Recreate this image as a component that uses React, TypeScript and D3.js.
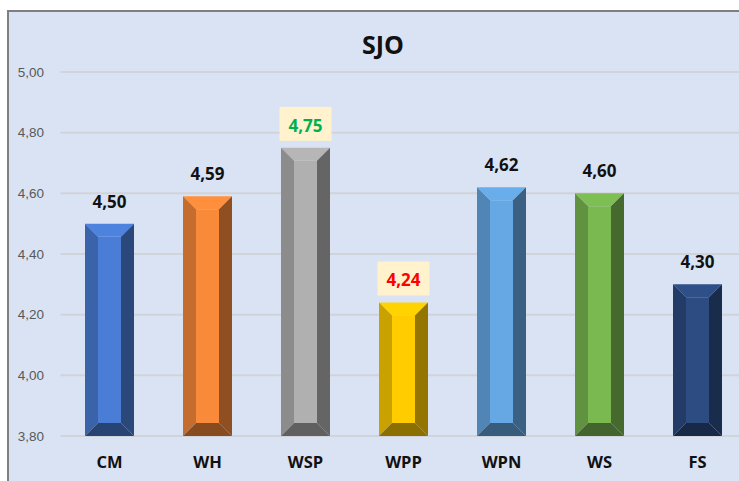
import React, { useEffect, useRef } from "react";
import * as d3 from "d3";

const categories = ["CM", "WH", "WSP", "WPP", "WPN", "WS", "FS"];
const values = [4.5, 4.59, 4.75, 4.24, 4.62, 4.6, 4.3];
const barColors = ["#4A7DD6", "#F98A3A", "#B0B0B0", "#FFCC00", "#65A8E4", "#7AB850", "#2C4C82"];
const yTicks = [3.8, 4.0, 4.2, 4.4, 4.6, 4.8, 5.0];
// highlighted labels: best and worst
const highlight: Record<string, string> = { WSP: "#00B050", WPP: "#FF0000" };

const fmt = (v: number) => v.toFixed(2).replace(".", ",");

const App: React.FC = () => {
  const svgRef = useRef<SVGSVGElement | null>(null);

  useEffect(() => {
    if (!svgRef.current) return;
    const W = 739;
    const H = 481;
    const svg = d3.select(svgRef.current);
    svg.selectAll("*").remove();

    const plot = { left: 60.5, right: 746.5, top: 72, bottom: 436 };

    // chart background + frame
    svg
      .append("rect")
      .attr("x", 8)
      .attr("y", 11)
      .attr("width", W + 20)
      .attr("height", H + 20)
      .attr("fill", "#DAE3F3")
      .attr("stroke", "#7F7F7F")
      .attr("stroke-width", 2);

    const x = d3
      .scaleBand<string>()
      .domain(categories)
      .range([plot.left, plot.right])
      .paddingInner(0.5)
      .paddingOuter(0.25);
    const y = d3.scaleLinear().domain([3.8, 5.0]).range([plot.bottom, plot.top]);

    // gridlines
    svg
      .append("g")
      .selectAll("line")
      .data(yTicks)
      .join("line")
      .attr("x1", plot.left)
      .attr("x2", W)
      .attr("y1", (d) => y(d))
      .attr("y2", (d) => y(d))
      .attr("stroke", "#D0D3D9")
      .attr("stroke-width", 2);

    // y tick labels
    svg
      .append("g")
      .selectAll("text")
      .data(yTicks)
      .join("text")
      .attr("x", 44)
      .attr("y", (d) => y(d))
      .attr("dy", "0.35em")
      .attr("text-anchor", "end")
      .attr("font-family", "Liberation Sans, Arial, sans-serif")
      .attr("font-size", 13.5)
      .attr("fill", "#595959")
      .text((d) => fmt(d));

    // beveled bars
    const bev = 13;
    const bars = svg
      .append("g")
      .selectAll("g")
      .data(categories)
      .join("g");

    bars.each(function (c, i) {
      const g = d3.select(this);
      const x0 = x(c)!;
      const w = x.bandwidth();
      const x1 = x0 + w;
      const yt = y(values[i]);
      const yb = y(3.8);
      const base = d3.color(barColors[i])!;
      const poly = (pts: number[][], fill: string) =>
        g
          .append("polygon")
          .attr("points", pts.map((p) => p.join(",")).join(" "))
          .attr("fill", fill);
      poly([[x0 + bev, yt + bev], [x1 - bev, yt + bev], [x1 - bev, yb - bev], [x0 + bev, yb - bev]], base.formatHex());
      poly([[x0, yt], [x1, yt], [x1 - bev, yt + bev], [x0 + bev, yt + bev]], base.brighter(0.1).formatHex());
      poly([[x0, yt], [x0 + bev, yt + bev], [x0 + bev, yb - bev], [x0, yb]], base.darker(0.65).formatHex());
      poly([[x1, yt], [x1, yb], [x1 - bev, yb - bev], [x1 - bev, yt + bev]], base.darker(1.55).formatHex());
      poly([[x0, yb], [x0 + bev, yb - bev], [x1 - bev, yb - bev], [x1, yb]], base.darker(1.7).formatHex());

      const cx = x0 + w / 2;
      const hl = highlight[c];
      if (hl) {
        g.append("rect")
          .attr("x", cx - 26)
          .attr("y", yt - 41)
          .attr("width", 52)
          .attr("height", 34)
          .attr("fill", "#FFF2CC");
      }
      g.append("text")
        .attr("x", cx)
        .attr("y", yt - 22)
        .attr("dy", "0.35em")
        .attr("text-anchor", "middle")
        .attr("font-family", "Open Sans, Liberation Sans, sans-serif")
        .attr("font-weight", "bold")
        .attr("font-size", 17)
        .attr("fill", hl || "#111111")
        .text(fmt(values[i]));
    });

    // category labels
    svg
      .append("g")
      .selectAll("text")
      .data(categories)
      .join("text")
      .attr("x", (d) => x(d)! + x.bandwidth() / 2)
      .attr("y", 462)
      .attr("dy", "0.35em")
      .attr("text-anchor", "middle")
      .attr("font-family", "Open Sans, Liberation Sans, sans-serif")
      .attr("font-weight", "bold")
      .attr("font-size", 16.5)
      .attr("fill", "#111111")
      .text((d) => d);

    // title
    svg
      .append("text")
      .attr("x", 383)
      .attr("y", 45)
      .attr("dy", "0.35em")
      .attr("text-anchor", "middle")
      .attr("font-family", "Open Sans, Liberation Sans, sans-serif")
      .attr("font-weight", "bold")
      .attr("font-size", 25)
      .attr("fill", "#111111")
      .text("SJO");
  }, []);

  return (
    <svg
      ref={svgRef}
      width={739}
      height={481}
      style={{ position: "absolute", left: 0, top: 0, display: "block" }}
    ></svg>
  );
};

export default App;
